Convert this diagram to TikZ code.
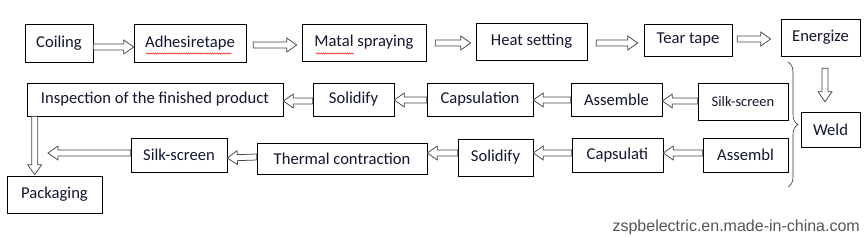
\documentclass[tikz,border=0pt]{standalone}
\usepackage{fontspec}
\setmainfont{Carlito}
\newfontfamily\sitefont{Liberation Sans}
\usetikzlibrary{calc,decorations.pathreplacing,decorations.pathmorphing}

\definecolor{boxtext}{RGB}{18,22,46}
\definecolor{arrowgray}{RGB}{70,70,70}
\definecolor{sitegray}{RGB}{85,85,85}

\begin{document}
\begin{tikzpicture}[x=1pt,y=-1pt]
\tikzstyle{procbox} = [rectangle, draw=black, line width=0.6pt, fill=white, text=boxtext, inner sep=0pt, text centered, font=\fontsize{16.6}{18}\selectfont]
\tikzstyle{blockarrow} = [draw=arrowgray, line width=0.75pt, fill=white,
   to path={let \p1=(\tikztostart), \p2=(\tikztotarget),
      \n1={atan2(\y2-\y1,\x2-\x1)}, \n2={veclen(\x2-\x1,\y2-\y1)} in
      ([shift={(\p1)},rotate=\n1]0pt,-3pt) -- ([shift={(\p1)},rotate=\n1]\n2-10pt,-3pt)
      -- ([shift={(\p1)},rotate=\n1]\n2-10pt,-7pt) -- ([shift={(\p1)},rotate=\n1]\n2,0pt)
      -- ([shift={(\p1)},rotate=\n1]\n2-10pt,7pt) -- ([shift={(\p1)},rotate=\n1]\n2-10pt,3pt)
      -- ([shift={(\p1)},rotate=\n1]0pt,3pt) -- cycle}]
\tikzstyle{squiggle} = [red, line width=0.4pt, decorate, decoration={snake, amplitude=0.7pt, segment length=2.2pt}]

\fill[white] (0,0) rectangle (868,237);
\useasboundingbox (0,0) rectangle (868,237);

% first row
\node (coil) [procbox, minimum width=68pt, minimum height=38pt] at (59,43) {Coiling};
\node (adh) [procbox, minimum width=112pt, minimum height=38pt] at (190,43) {Adhesiretape};
\node (matal) [procbox, minimum width=124pt, minimum height=37pt] at (364,42.5) {Matal spraying};
\node (heat) [procbox, minimum width=111pt, minimum height=37pt] at (531.5,41.5) {Heat setting};
\node (tear) [procbox, minimum width=88pt, minimum height=32pt] at (688,40) {Tear tape};
\node (ener) [procbox, minimum width=79pt, minimum height=37pt] at (820.5,37.5) {Energize};
\node (weld) [procbox, minimum width=59pt, minimum height=35pt] at (830.5,129.5) {Weld};

% second row
\node (silkA) [procbox, minimum width=90pt, minimum height=37pt, font=\fontsize{14.5}{16}\selectfont] at (743,101.5) {Silk-screen};
\node (assA) [procbox, minimum width=91pt, minimum height=33pt] at (616.5,99.5) {Assemble};
\node (capA) [procbox, minimum width=106pt, minimum height=33pt] at (480,99.5) {Capsulation};
\node (solA) [procbox, minimum width=81pt, minimum height=33pt] at (353.5,99.5) {Solidify};
\node (insp) [procbox, minimum width=256pt, minimum height=33pt] at (155,99.5) {Inspection of the finished product};

% third row
\node (assB) [procbox, minimum width=85pt, minimum height=34pt] at (745.5,155) {Assembl};
\node (capB) [procbox, minimum width=91pt, minimum height=34pt] at (617.5,155) {Capsulati};
\node (solB) [procbox, minimum width=75pt, minimum height=37pt] at (495.5,157.5) {Solidify};
\node (therm) [procbox, minimum width=170pt, minimum height=31pt] at (342,158.5) {Thermal contraction};
\node (silkB) [procbox, minimum width=96pt, minimum height=34pt] at (179,155) {Silk-screen};
\node (pack) [procbox, minimum width=95pt, minimum height=37pt] at (54.5,194.5) {Packaging};
\coordinate (silkout) at (48,153);

% spelling marks
\draw [squiggle] (146,53.5) -- (232,53.5);
\draw [squiggle] (316,53.5) -- (354,53.5);

% arrows
\draw [blockarrow] ([yshift=-4pt]coil.east) to ([yshift=-4pt]adh.west);
\draw [blockarrow] ([xshift=7pt,yshift=-2pt]adh.east) to ([xshift=-5pt,yshift=-2.5pt]matal.west);
\draw [blockarrow] ([xshift=9pt,yshift=-0.5pt]matal.east) to ([xshift=-5pt,yshift=-1.5pt]heat.west);
\draw [blockarrow] ([xshift=9pt,yshift=-1.5pt]heat.east) to ([xshift=-6pt,yshift=-3pt]tear.west);
\draw [blockarrow] ([xshift=5pt,yshift=1pt]tear.east) to ([xshift=-10pt,yshift=-1.5pt]ener.west);
\draw [blockarrow] ([xshift=4.5pt,yshift=-12pt]ener.south) to ([xshift=-5.5pt,yshift=10pt]weld.north);

\draw [blockarrow] ([yshift=0.5pt]silkA.west) to ([yshift=-1.5pt]assA.east);
\draw [blockarrow] ([yshift=-0.5pt]assA.west) to ([yshift=-0.5pt]capA.east);
\draw [blockarrow] ([yshift=-0.5pt]capA.west) to ([yshift=-0.5pt]solA.east);
\draw [blockarrow] ([yshift=-1.5pt]solA.west) to ([yshift=-1.5pt]insp.east);
\draw [blockarrow] ([xshift=8pt]insp.south west) to ([xshift=28pt,yshift=1pt]pack.north west);

\draw [blockarrow] ([yshift=2pt]assB.west) to ([yshift=2pt]capB.east);
\draw [blockarrow] ([yshift=2pt]capB.west) to ([yshift=4.5pt]solB.east);
\draw [blockarrow] ([yshift=4.5pt]solB.west) to ([yshift=5.5pt]therm.east);
\draw [blockarrow] ([yshift=1.5pt]therm.west) to ([yshift=-3pt]silkB.east);
\draw [blockarrow] ([yshift=2pt]silkB.west) to (silkout);

% bracket round the weld step
\draw [black!80, line width=0.6pt, decorate, decoration={brace, amplitude=10pt}] (788,62) -- (788,187);

\node (site) [anchor=base east, inner sep=0pt, text=sitegray, font=\sitefont\fontsize{16}{16}\selectfont] at (860,232) {zspbelectric.en.made-in-china.com};
\end{tikzpicture}
\end{document}
